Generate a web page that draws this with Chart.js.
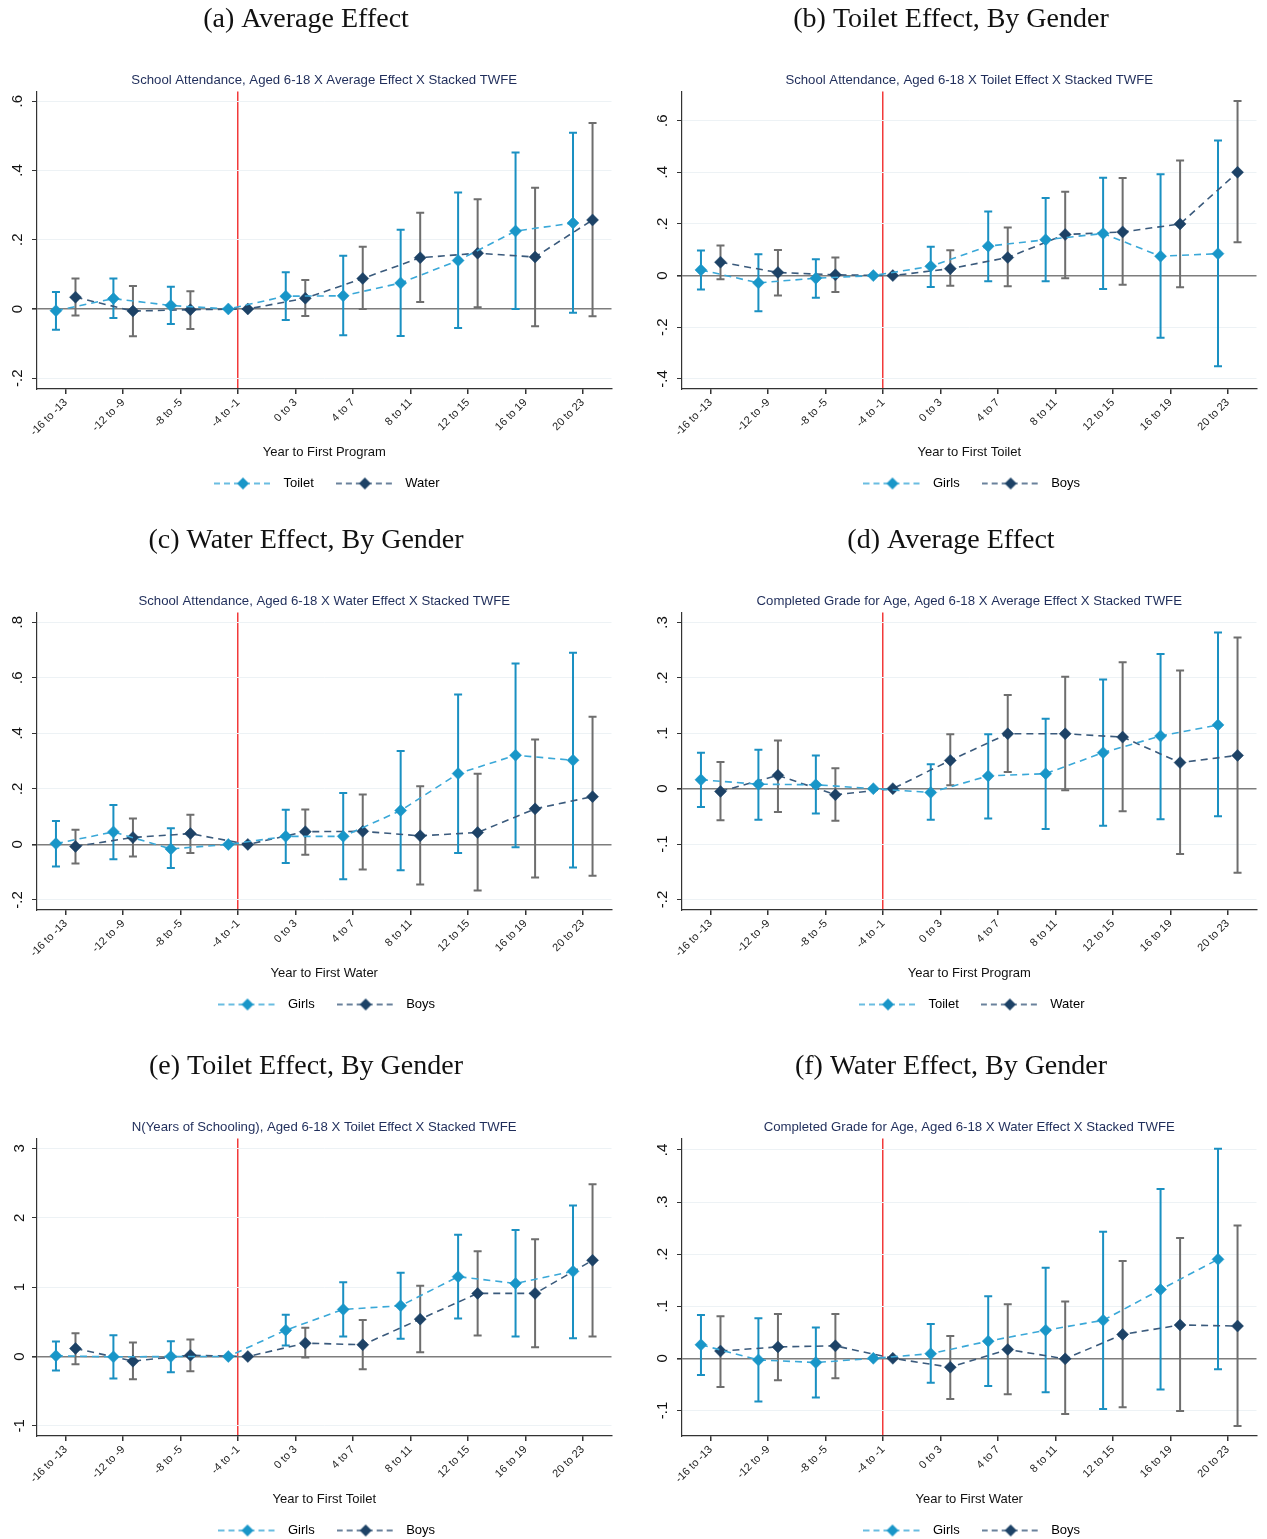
<!DOCTYPE html>
<html>
<head>
<meta charset="utf-8">
<script src="https://cdn.jsdelivr.net/npm/chart.js@4.4.1/dist/chart.umd.min.js"></script>
<style>
  html, body { margin: 0; padding: 0; background: #fff; overflow: hidden; }
  #page { position: relative; width: 1267px; height: 1539px; overflow: hidden; }
  .panel { position: absolute; }
</style>
</head>
<body>
<div id="page">
  <div class="panel" style="left:0;top:0"><canvas id="chartA" width="618" height="500"></canvas></div>
  <div class="panel" style="left:645px;top:0"><canvas id="chartB" width="618" height="500"></canvas></div>
  <div class="panel" style="left:0;top:521px"><canvas id="chartC" width="618" height="500"></canvas></div>
  <div class="panel" style="left:645px;top:521px"><canvas id="chartD" width="618" height="500"></canvas></div>
  <div class="panel" style="left:0;top:1047px"><canvas id="chartE" width="618" height="500"></canvas></div>
  <div class="panel" style="left:645px;top:1047px"><canvas id="chartF" width="618" height="500"></canvas></div>
</div>
<script>
const categories = ['-16 to -13', '-12 to -9', '-8 to -5', '-4 to -1', '0 to 3', '4 to 7', '8 to 11', '12 to 15', '16 to 19', '20 to 23'];

// (a) school attendance, average effect
const aTicks = [-0.2, 0, 0.2, 0.4, 0.6];
const aToilet   = [-0.005, 0.030, 0.010, 0, 0.037, 0.038, 0.075, 0.140, 0.225, 0.248];
const aToiletLo = [-0.060, -0.026, -0.043, null, -0.032, -0.076, -0.078, -0.055, 0.000, -0.011];
const aToiletHi = [0.049, 0.088, 0.064, null, 0.106, 0.154, 0.229, 0.336, 0.452, 0.509];
const aWater    = [0.034, -0.006, -0.002, 0, 0.031, 0.088, 0.148, 0.161, 0.150, 0.257];
const aWaterLo  = [-0.019, -0.079, -0.058, null, -0.020, 0.000, 0.020, 0.005, -0.050, -0.021];
const aWaterHi  = [0.088, 0.066, 0.051, null, 0.084, 0.180, 0.278, 0.317, 0.350, 0.537];

// (b) school attendance, toilet effect by gender
const bTicks = [-0.4, -0.2, 0, 0.2, 0.4, 0.6];
const bGirls   = [0.022, -0.028, -0.010, 0, 0.036, 0.114, 0.139, 0.163, 0.075, 0.085];
const bGirlsLo = [-0.054, -0.138, -0.086, null, -0.044, -0.022, -0.022, -0.052, -0.241, -0.351];
const bGirlsHi = [0.097, 0.083, 0.063, null, 0.112, 0.248, 0.300, 0.379, 0.392, 0.523];
const bBoys    = [0.052, 0.012, 0.003, 0, 0.027, 0.070, 0.159, 0.169, 0.200, 0.400];
const bBoysLo  = [-0.014, -0.077, -0.063, null, -0.039, -0.041, -0.010, -0.035, -0.045, 0.129];
const bBoysHi  = [0.117, 0.099, 0.070, null, 0.098, 0.186, 0.325, 0.378, 0.446, 0.676];

// (c) school attendance, water effect by gender
const cTicks = [-0.2, 0, 0.2, 0.4, 0.6, 0.8];
const cGirls   = [0.003, 0.045, -0.016, 0, 0.029, 0.029, 0.122, 0.255, 0.321, 0.303];
const cGirlsLo = [-0.079, -0.053, -0.085, null, -0.067, -0.125, -0.093, -0.031, -0.010, -0.083];
const cGirlsHi = [0.084, 0.142, 0.058, null, 0.125, 0.185, 0.336, 0.540, 0.651, 0.690];
const cBoys    = [-0.007, 0.025, 0.039, 0, 0.046, 0.047, 0.031, 0.043, 0.128, 0.172];
const cBoysLo  = [-0.069, -0.043, -0.031, null, -0.037, -0.090, -0.144, -0.166, -0.119, -0.113];
const cBoysHi  = [0.053, 0.093, 0.107, null, 0.126, 0.180, 0.209, 0.254, 0.378, 0.460];

// (d) completed grade for age, average effect
const dTicks = [-0.2, -0.1, 0, 0.1, 0.2, 0.3];
const dToilet   = [0.016, 0.008, 0.007, 0, -0.007, 0.023, 0.027, 0.065, 0.095, 0.115];
const dToiletLo = [-0.033, -0.056, -0.045, null, -0.056, -0.054, -0.073, -0.067, -0.055, -0.050];
const dToiletHi = [0.065, 0.070, 0.060, null, 0.044, 0.098, 0.126, 0.197, 0.243, 0.282];
const dWater    = [-0.005, 0.024, -0.011, 0, 0.051, 0.099, 0.099, 0.093, 0.047, 0.060];
const dWaterLo  = [-0.057, -0.042, -0.058, null, 0.006, 0.030, -0.003, -0.041, -0.118, -0.152];
const dWaterHi  = [0.048, 0.087, 0.037, null, 0.098, 0.169, 0.202, 0.228, 0.213, 0.273];

// (e) years of schooling, toilet effect by gender
const eTicks = [-1, 0, 1, 2, 3];
const eGirls   = [0.010, -0.005, 0.000, 0, 0.380, 0.679, 0.732, 1.151, 1.054, 1.228];
const eGirlsLo = [-0.202, -0.318, -0.226, null, 0.159, 0.289, 0.255, 0.549, 0.289, 0.265];
const eGirlsHi = [0.217, 0.308, 0.221, null, 0.602, 1.069, 1.208, 1.757, 1.825, 2.176];
const eBoys    = [0.116, -0.067, 0.019, 0, 0.193, 0.169, 0.539, 0.910, 0.910, 1.387];
const eBoysLo  = [-0.111, -0.327, -0.212, null, -0.014, -0.183, 0.063, 0.303, 0.135, 0.289];
const eBoysHi  = [0.337, 0.202, 0.246, null, 0.414, 0.525, 1.021, 1.517, 1.690, 2.484];

// (f) completed grade for age, water effect by gender
const fTicks = [-0.1, 0, 0.1, 0.2, 0.3, 0.4];
const fGirls   = [0.026, -0.003, -0.008, 0, 0.009, 0.033, 0.054, 0.073, 0.132, 0.190];
const fGirlsLo = [-0.032, -0.083, -0.075, null, -0.047, -0.053, -0.065, -0.097, -0.060, -0.021];
const fGirlsHi = [0.083, 0.077, 0.059, null, 0.066, 0.119, 0.174, 0.243, 0.325, 0.402];
const fBoys    = [0.014, 0.022, 0.024, 0, -0.017, 0.017, -0.001, 0.046, 0.064, 0.062];
const fBoysLo  = [-0.055, -0.042, -0.038, null, -0.078, -0.069, -0.107, -0.094, -0.101, -0.130];
const fBoysHi  = [0.081, 0.085, 0.085, null, 0.043, 0.104, 0.109, 0.187, 0.231, 0.255];

const panels = [
  { id: 'chartA', caption: '(a) Average Effect', title: 'School Attendance, Aged 6-18 X Average Effect X Stacked TWFE',
    xTitle: 'Year to First Program', names: ['Toilet', 'Water'], ticks: aTicks, yMin: -0.231, yMax: 0.628,
    s1: [aToilet, aToiletLo, aToiletHi], s2: [aWater, aWaterLo, aWaterHi] },
  { id: 'chartB', caption: '(b) Toilet Effect, By Gender', title: 'School Attendance, Aged 6-18 X Toilet Effect X Stacked TWFE',
    xTitle: 'Year to First Toilet', names: ['Girls', 'Boys'], ticks: bTicks, yMin: -0.439, yMax: 0.713,
    s1: [bGirls, bGirlsLo, bGirlsHi], s2: [bBoys, bBoysLo, bBoysHi] },
  { id: 'chartC', caption: '(c) Water Effect, By Gender', title: 'School Attendance, Aged 6-18 X Water Effect X Stacked TWFE',
    xTitle: 'Year to First Water', names: ['Girls', 'Boys'], ticks: cTicks, yMin: -0.236, yMax: 0.835,
    s1: [cGirls, cGirlsLo, cGirlsHi], s2: [cBoys, cBoysLo, cBoysHi] },
  { id: 'chartD', caption: '(d) Average Effect', title: 'Completed Grade for Age, Aged 6-18 X Average Effect X Stacked TWFE',
    xTitle: 'Year to First Program', names: ['Toilet', 'Water'], ticks: dTicks, yMin: -0.219, yMax: 0.318,
    s1: [dToilet, dToiletLo, dToiletHi], s2: [dWater, dWaterLo, dWaterHi] },
  { id: 'chartE', caption: '(e) Toilet Effect, By Gender', title: 'N(Years of Schooling), Aged 6-18 X Toilet Effect X Stacked TWFE',
    xTitle: 'Year to First Toilet', names: ['Girls', 'Boys'], ticks: eTicks, yMin: -1.146, yMax: 3.144,
    s1: [eGirls, eGirlsLo, eGirlsHi], s2: [eBoys, eBoysLo, eBoysHi] },
  { id: 'chartF', caption: '(f) Water Effect, By Gender', title: 'Completed Grade for Age, Aged 6-18 X Water Effect X Stacked TWFE',
    xTitle: 'Year to First Water', names: ['Girls', 'Boys'], ticks: fTicks, yMin: -0.149, yMax: 0.422,
    s1: [fGirls, fGirlsLo, fGirlsHi], s2: [fBoys, fBoysLo, fBoysHi] }
];

const SANS = "'Liberation Sans', Arial, Helvetica, sans-serif";
const SERIF = "'Liberation Serif', 'Times New Roman', serif";

const styles = [
  { line: '#3aa8d8', point: '#1996c8', ci: '#1a90c2', shift: -0.17 },
  { line: '#3a5a7c', point: '#1d4266', ci: '#6e6e6e', shift: 0.17 }
];

// Stata-like tick labels: .6, -.2, 0
function stataNum(v) {
  const s = String(Math.round(v * 1000) / 1000);
  return s.replace(/^(-?)0\./, '$1.');
}

// little "- -◆- -" sample for the legend
function legendImg(st) {
  const c = document.createElement('canvas');
  c.width = 58; c.height = 14;
  const g = c.getContext('2d');
  g.strokeStyle = st.line;
  g.lineWidth = 1.6;
  g.setLineDash([6, 4]);
  g.beginPath();
  g.moveTo(0, 7); g.lineTo(58, 7);
  g.stroke();
  g.fillStyle = st.point;
  g.beginPath();
  g.moveTo(29, 1); g.lineTo(35, 7); g.lineTo(29, 13); g.lineTo(23, 7);
  g.closePath();
  g.fill();
  return c;
}

// confidence intervals drawn under the connected lines
const errorBars = {
  id: 'errorBars',
  beforeDatasetsDraw(chart) {
    const { ctx, scales: { x, y } } = chart;
    chart.data.datasets.forEach(ds => {
      ctx.save();
      ctx.strokeStyle = ds.ciColor;
      ctx.lineWidth = 2;
      ds.data.forEach((p, i) => {
        const lo = ds.ciLo[i], hi = ds.ciHi[i];
        if (lo == null || hi == null) return;
        const px = x.getPixelForValue(p.x);
        const yLo = y.getPixelForValue(lo);
        const yHi = y.getPixelForValue(hi);
        ctx.beginPath();
        ctx.moveTo(px, yLo); ctx.lineTo(px, yHi);
        ctx.moveTo(px - 4, yLo); ctx.lineTo(px + 4, yLo);
        ctx.moveTo(px - 4, yHi); ctx.lineTo(px + 4, yHi);
        ctx.stroke();
      });
      ctx.restore();
    });
  }
};

function makeDataset(name, series, st) {
  const [est, lo, hi] = series;
  return {
    label: name,
    data: est.map((v, i) => ({ x: i + st.shift, y: v })),
    ciLo: lo,
    ciHi: hi,
    ciColor: st.ci,
    legendImg: legendImg(st),
    borderColor: st.line,
    borderWidth: 1.6,
    borderDash: [7, 5],
    pointStyle: 'rectRot',
    pointRadius: 6,
    pointBackgroundColor: st.point,
    pointBorderColor: st.point,
    pointBorderWidth: 0.5,
    tension: 0,
    fill: false
  };
}

panels.forEach(p => {
  const ctx = document.getElementById(p.id).getContext('2d');
  new Chart(ctx, {
    type: 'line',
    data: {
      datasets: [
        makeDataset(p.names[0], p.s1, styles[0]),
        makeDataset(p.names[1], p.s2, styles[1])
      ]
    },
    options: {
      responsive: false,
      animation: false,
      events: [],
      layout: { padding: { left: 0, right: 6, top: 0, bottom: 0 } },
      scales: {
        x: {
          type: 'linear',
          min: -0.5,
          max: 9.5,
          afterBuildTicks: s => { s.ticks = categories.map((c, i) => ({ value: i })); },
          afterFit: s => { s.height = 71; },
          ticks: {
            autoSkip: false,
            minRotation: 45,
            maxRotation: 45,
            padding: 2,
            color: '#222',
            font: { family: SANS, size: 11 },
            callback: v => categories[v]
          },
          grid: {
            color: c => (c.tick && c.tick.value === 3) ? '#f23a3a' : 'rgba(0,0,0,0)',
            lineWidth: 1.5,
            tickColor: '#333',
            tickLength: 5
          },
          border: { color: '#333', width: 1.2 },
          title: {
            display: true,
            text: p.xTitle,
            color: '#111',
            font: { family: SANS, size: 13 },
            padding: { top: 0, bottom: 0 }
          }
        },
        y: {
          min: p.yMin,
          max: p.yMax,
          afterBuildTicks: s => { s.ticks = p.ticks.map(v => ({ value: v })); },
          afterFit: s => { s.width = 37; },
          ticks: {
            minRotation: 90,
            maxRotation: 90,
            crossAlign: 'center',
            padding: 5,
            color: '#111',
            font: { family: SANS, size: 15 },
            callback: v => stataNum(v)
          },
          grid: {
            color: c => (c.tick && c.tick.value === 0) ? '#7d7d7d' : '#edf2f5',
            lineWidth: c => (c.tick && c.tick.value === 0) ? 1.6 : 1,
            tickColor: '#333',
            tickLength: 5
          },
          border: { color: '#333', width: 1.2 }
        }
      },
      plugins: {
        title: {
          display: true,
          text: p.caption,
          color: '#111',
          font: { family: SERIF, size: 28, weight: 'normal' },
          padding: { top: 3, bottom: 36 }
        },
        subtitle: {
          display: true,
          fullSize: false,
          text: p.title,
          color: '#1f2d5a',
          font: { family: SANS, size: 13.2 },
          padding: { top: 0, bottom: 3 }
        },
        legend: {
          position: 'bottom',
          fullSize: false,
          labels: {
            usePointStyle: true,
            pointStyleWidth: 68,
            padding: 17,
            color: '#111',
            font: { family: SANS, size: 13 },
            generateLabels: chart => chart.data.datasets.map((ds, i) => ({
              text: ds.label,
              pointStyle: ds.legendImg,
              fillStyle: ds.pointBackgroundColor,
              strokeStyle: ds.borderColor,
              lineWidth: 0,
              hidden: false,
              datasetIndex: i
            }))
          }
        },
        tooltip: { enabled: false }
      }
    },
    plugins: [errorBars]
  });
});
</script>
</body>
</html>
